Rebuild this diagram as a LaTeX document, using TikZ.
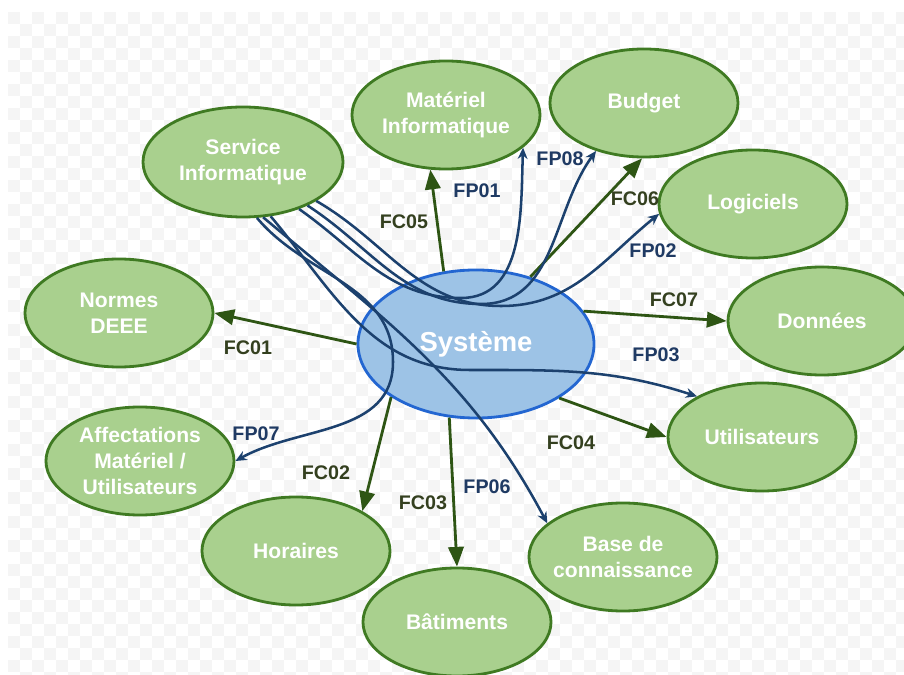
\documentclass[tikz,border=0pt]{standalone}
\usepackage{fontspec}
\setmainfont{Liberation Sans}
\usepackage{tikz}
\usetikzlibrary{positioning}
\usetikzlibrary{shapes}
\usetikzlibrary{arrows.meta}
\usetikzlibrary{calc}

\definecolor{fillgreen}{HTML}{A9D08E}
\definecolor{linegreen}{HTML}{3F7A22}
\definecolor{arrowgreen}{HTML}{2E5514}
\definecolor{labelgreen}{HTML}{34401F}
\definecolor{fillblue}{HTML}{9DC3E6}
\definecolor{lineblue}{HTML}{2366D1}
\definecolor{arrowblue}{HTML}{1C416E}
\definecolor{labelblue}{HTML}{1F3A63}

\begin{document}
\begin{tikzpicture}[x=0.025cm, y=-0.025cm,
  bulle/.style={ellipse, draw=linegreen, fill=fillgreen, line width=2pt,
    minimum width=4.7cm, minimum height=2.7cm, inner xsep=-6pt, inner ysep=0pt, align=center,
    text=white, font=\fontsize{15}{18.5}\selectfont\bfseries},
  systeme/.style={ellipse, draw=lineblue, fill=fillblue, line width=2pt,
    minimum width=5.9cm, minimum height=3.7cm, inner sep=0pt,
    text=white, font=\fontsize{19.5}{22}\selectfont\bfseries},
  fc/.style={draw=arrowgreen, line width=2pt, -{Triangle[length=14pt, width=11pt]}},
  fp/.style={draw=arrowblue, line width=1.8pt, -{Stealth[length=8pt, width=7pt]}},
  labfc/.style={text=labelgreen, font=\fontsize{14}{16}\selectfont\bfseries, inner sep=0pt},
  labfp/.style={text=labelblue, font=\fontsize{14}{16}\selectfont\bfseries, inner sep=0pt},
  checker/.style={fill=black!4}]

\useasboundingbox (0,0) rectangle (904,675);
\fill[white] (0,0) rectangle (904,675);
% fond en damier
\foreach \i in {0,...,74}{
  \foreach \j in {0,...,55}{
    \pgfmathparse{int(mod(\i+\j,2))}
    \ifnum\pgfmathresult=0
      \fill[checker] (8+12*\i,12+12*\j) rectangle ++(12,12);
    \fi
  }
}

\node[bulle, minimum width=5cm, minimum height=2.75cm] (service) at (243,162) {Service\\Informatique};
\node[bulle] (materiel) at (446,115) {Matériel\\Informatique};
\node[bulle] (budget) at (644,103) {Budget};
\node[bulle] (logiciels) at (753,204) {Logiciels};
\node[bulle] (donnees) at (822,321) {Données};
\node[bulle] (utilisateurs) at (762,437) {Utilisateurs};
\node[bulle] (base) at (623,557) {Base de\\connaissance};
\node[bulle] (batiments) at (457,622) {Bâtiments};
\node[bulle] (horaires) at (296,551) {Horaires};
\node[bulle] (affect) at (140,461) {Affectations\\Matériel /\\Utilisateurs};
\node[bulle] (normes) at (119,313) {Normes\\DEEE};
\node[systeme] (sys) at (476,344) {Système};

% fonctions de contrainte
\draw[fc] (sys.114) -- (materiel.254);
\draw[fc] (sys.51) -- (budget.268);
\draw[fc] (sys.17) -- (donnees.west);
\draw[fc] (sys.-33) -- (utilisateurs.west);
\draw[fc] (sys.-110) -- (batiments.north);
\draw[fc] (sys.212) -- (horaires.31);
\draw[fc] (sys.west) -- (normes.east);

% fonctions principales
\coordinate (b01) at (461,298);
\coordinate (b08) at (481,304);
\coordinate (b02) at (501,306);
\coordinate (b03) at (470,370);
\coordinate (b07) at (393,362);

\draw[fp] (service.-40) to[out=-35,in=180] (b01) to[out=0,in=-92] (materiel.-23);
\draw[fp] (service.-34) to[out=-33,in=180] (b08) to[out=0,in=-126] (budget.225);
\draw[fp] (service.-28) to[out=-30,in=180] (b02) to[out=0,in=-141] (logiciels.186);
\draw[fp] (service.-63) to[out=-50,in=180] (b03) to[out=0,in=162] (utilisateurs.148);
\draw[fp] (service.-70) to[out=-40,in=118] (base.156);
\draw[fp] (service.-76) to[out=-50,in=90] (b07) to[out=-90,in=29] (affect.east);

\node[labfc] (lfc05) at (404,222) {FC05};
\node[labfp] (lfp01) at (477,191) {FP01};
\node[labfp] (lfp08) at (560,159) {FP08};
\node[labfc] (lfc06) at (635,199) {FC06};
\node[labfp] (lfp02) at (653,251) {FP02};
\node[labfc] (lfc07) at (674,300) {FC07};
\node[labfp] (lfp03) at (656,355) {FP03};
\node[labfc] (lfc04) at (571,443) {FC04};
\node[labfp] (lfp06) at (487,487) {FP06};
\node[labfc] (lfc03) at (423,503) {FC03};
\node[labfc] (lfc02) at (326,473) {FC02};
\node[labfp] (lfp07) at (256,434) {FP07};
\node[labfc] (lfc01) at (248,348) {FC01};
\end{tikzpicture}
\end{document}
